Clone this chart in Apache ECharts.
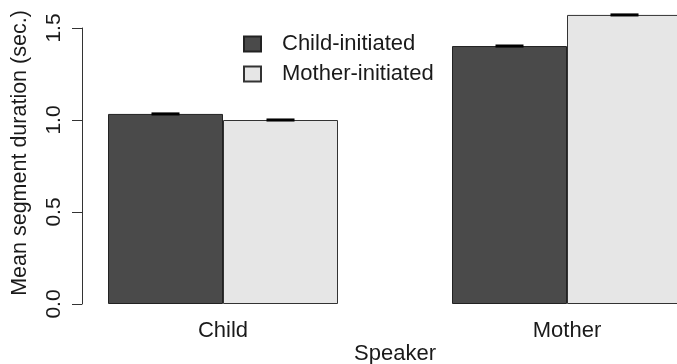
<!DOCTYPE html>
<html>
<head>
<meta charset="utf-8">
<script src="https://cdn.jsdelivr.net/npm/echarts@6/dist/echarts.min.js"></script>
<style>
html,body{margin:0;padding:0;background:#fff;}
#c{width:677px;height:364px;}
</style>
</head>
<body>
<div id="c"></div>
<script>
var categories = ['Child', 'Mother'];
var seriesNames = ['Child-initiated', 'Mother-initiated'];
var childInitiated = [1.033, 1.402];
var motherInitiated = [1.000, 1.571];
var childInitiatedErr = [0.004, 0.004];
var motherInitiatedErr = [0.004, 0.004];
var yTicks = [0, 0.5, 1.0, 1.5];

var FONT = '"Liberation Sans", Arial, Helvetica, sans-serif';
var chart = echarts.init(document.getElementById('c'), null, {renderer: 'canvas'});

function errSeries(name, values, errs, offset) {
  var data = values.map(function (v, i) { return [i, v - errs[i], v + errs[i]]; });
  return {
    type: 'custom',
    name: name + ' err',
    xAxisIndex: 0, yAxisIndex: 0,
    clip: false,
    z: 10,
    silent: true,
    data: data,
    renderItem: function (params, api) {
      var lo = api.coord([api.value(0), api.value(1)]);
      var hi = api.coord([api.value(0), api.value(2)]);
      var x = lo[0] + offset;
      var hw = 14;
      var st = {stroke: '#000', lineWidth: 1.6};
      return {
        type: 'group',
        children: [
          {type: 'line', shape: {x1: x - hw, y1: hi[1], x2: x + hw, y2: hi[1]}, style: st},
          {type: 'line', shape: {x1: x - hw, y1: lo[1], x2: x + hw, y2: lo[1]}, style: st},
          {type: 'line', shape: {x1: x, y1: lo[1], x2: x, y2: hi[1]}, style: st}
        ]
      };
    }
  };
}

var option = {
  animation: false,
  backgroundColor: '#ffffff',
  textStyle: {fontFamily: FONT},
  grid: {left: 51, width: 688, top: 28, bottom: 60, containLabel: false, outerBoundsMode: 'none'},
  legend: {
    orient: 'vertical',
    left: 243, top: 33,
    padding: 0,
    icon: 'rect',
    itemWidth: 17, itemHeight: 15,
    itemGap: 8,
    data: seriesNames,
    textStyle: {fontSize: 22, color: '#1a1a1a', fontFamily: FONT, padding: [0, 0, 0, 16]},
    selectedMode: false
  },
  xAxis: {
    type: 'category',
    data: categories,
    axisLine: {show: false},
    axisTick: {show: false},
    axisLabel: {fontSize: 22, color: '#1a1a1a', margin: 16, fontFamily: FONT},
    name: 'Speaker',
    nameLocation: 'middle',
    nameGap: 39,
    nameMoveOverlap: false,
    nameTextStyle: {fontSize: 22, color: '#1a1a1a', fontFamily: FONT}
  },
  yAxis: {
    type: 'value',
    min: 0, max: 1.5, interval: 0.5,
    offset: -31,
    splitLine: {show: false},
    axisLine: {show: true, lineStyle: {color: '#333', width: 1}},
    axisTick: {show: true, length: 10, lineStyle: {color: '#333', width: 1}},
    axisLabel: {
      fontSize: 21, color: '#1a1a1a', rotate: 90, margin: 17, fontFamily: FONT,
      formatter: function (v) { return v.toFixed(1); }
    }
  },
  graphic: [{
    type: 'text',
    x: 20, y: 153,
    rotation: Math.PI / 2,
    style: {
      text: 'Mean segment duration (sec.)',
      font: '21.5px ' + FONT,
      fill: '#1a1a1a',
      textAlign: 'center',
      textVerticalAlign: 'middle'
    }
  }],
  series: [
    {
      type: 'bar', name: seriesNames[0], data: childInitiated,
      barWidth: 115, barGap: '0%', clip: false,
      itemStyle: {color: '#4a4a4a', borderColor: '#222', borderWidth: 1}
    },
    {
      type: 'bar', name: seriesNames[1], data: motherInitiated,
      barWidth: 115, barGap: '0%', clip: false,
      itemStyle: {color: '#e6e6e6', borderColor: '#333', borderWidth: 1}
    },
    errSeries(seriesNames[0], childInitiated, childInitiatedErr, -57.5),
    errSeries(seriesNames[1], motherInitiated, motherInitiatedErr, 57.5)
  ]
};
chart.setOption(option);
</script>
</body>
</html>
